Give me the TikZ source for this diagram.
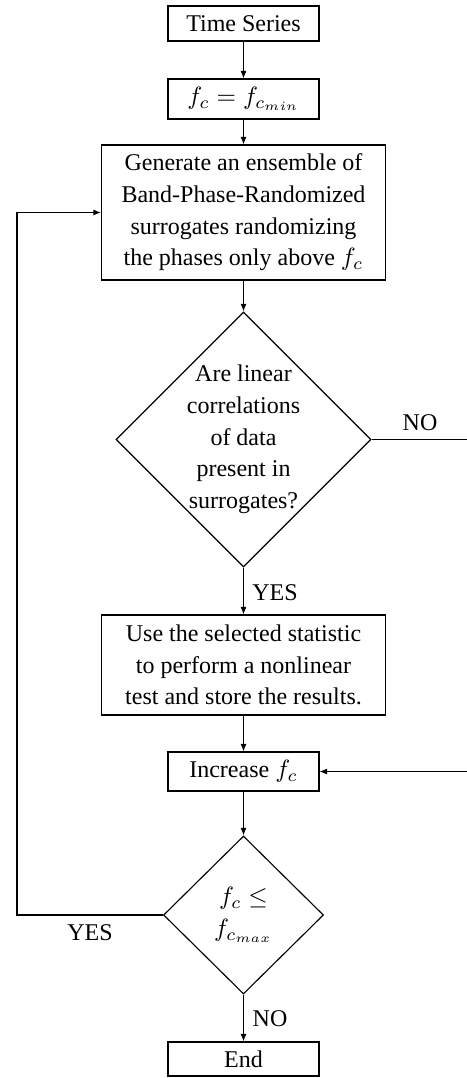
\documentclass[tikz,border=0pt]{standalone}
\usepackage{fontspec}
\setmainfont{Liberation Serif}
\usetikzlibrary{shapes.geometric,arrows.meta}
\tikzset{
  box/.style={draw, rectangle, inner sep=1pt, align=center, line width=0.45pt},
  smallbox/.style={box, minimum width=60.4pt},
  bigbox/.style={box, minimum width=113.6pt},
  dia/.style={draw, diamond, inner sep=0pt, line width=0.45pt},
  lbl/.style={inner sep=0pt},
  arr/.style={-{Latex[length=3pt,width=2.4pt]}, line width=0.45pt},
  ln/.style={line width=0.45pt}
}
\begin{document}
\begin{tikzpicture}[x=0.4pt,y=-0.4pt,font=\fontsize{9.6}{12.7}\selectfont]
\useasboundingbox (0,0) rectangle (466,1078);
\node[smallbox, minimum height=14pt] (ts) at (243.5,23.5) {Time Series};
\node[smallbox, minimum height=16pt] (fc0) at (243.5,99) {$f_c = f_{c_{min}}$};
\node[bigbox, minimum height=54pt] (gen) at (243.5,212.5) {Generate an ensemble of\\Band-Phase-Randomized\\surrogates randomizing\\the phases only above $f_c$};
\node[dia, minimum width=102pt, minimum height=102pt,
  label={[align=center]center:Are linear\\correlations\\of data\\present in\\surrogates?}] (d1) at (243.5,439.5) {};
\node[bigbox, minimum height=40pt] (use) at (243.5,665) {Use the selected statistic\\to perform a nonlinear\\test and store the results.};
\node[smallbox, minimum height=15.6pt] (inc) at (243.5,771.5) {Increase $f_c$};
\node[dia, minimum width=64pt, minimum height=63.2pt,
  label={[align=center]center:$f_c \leq$\\$f_{c_{max}}$}] (d2) at (243.5,915) {};
\node[smallbox, minimum height=13.6pt] (end) at (243.5,1059) {End};

\coordinate (rt1) at (468,439.5);
\coordinate (rt2) at (468,771.5);
\coordinate (lft) at (17,915);

\draw[arr] (ts) -- (fc0);
\draw[arr] (fc0) -- (gen);
\draw[arr] (gen) -- (d1);
\draw[arr] (d1.south) -- (use);
\draw[arr] (use) -- (inc);
\draw[arr] (inc) -- (d2);
\draw[arr] (d2.south) -- (end);
\draw[arr] (d1.east) -- (rt1) -- (rt2) -- (inc.east);
\draw[arr] (d2.west) -- (lft) |- (gen.west);

\node[lbl] (no1) at (420,423) {NO};
\node[lbl] (yes1) at (275,593) {YES};
\node[lbl] (yes2) at (90,933) {YES};
\node[lbl] (no2) at (270,1019) {NO};
\end{tikzpicture}
\end{document}
